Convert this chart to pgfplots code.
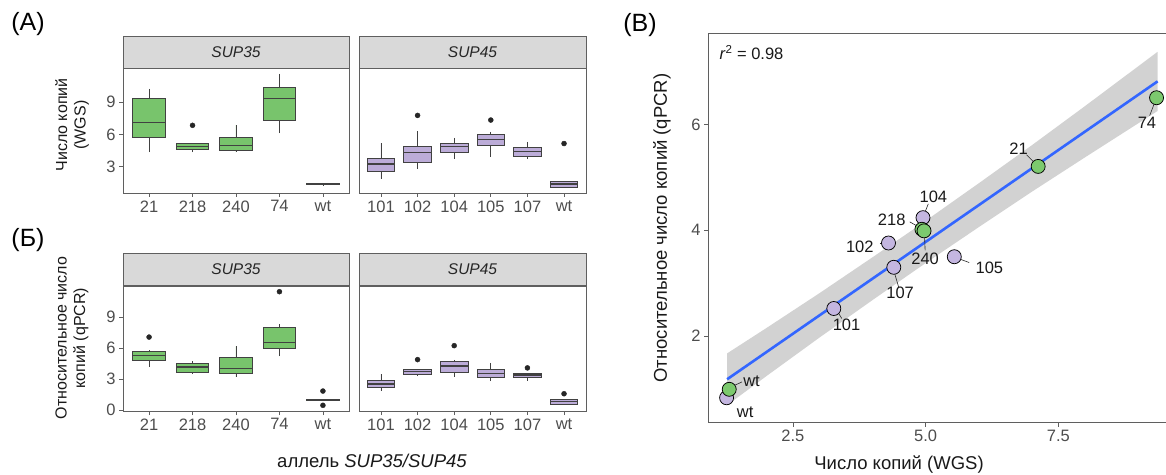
\documentclass[border=0pt]{standalone}
\usepackage{pgfplots}
\pgfplotsset{compat=1.18}
\usepgfplotslibrary{statistics}
\usepackage{fontspec}
\setmainfont{Liberation Sans}
\definecolor{bgreen}{RGB}{120,196,108}
\definecolor{bpurple}{RGB}{188,172,216}
\definecolor{pgreen}{RGB}{124,201,110}
\definecolor{ppurple}{RGB}{196,182,224}
\definecolor{bline}{RGB}{65,65,65}
\definecolor{stripfill}{RGB}{217,217,217}
\definecolor{frame}{RGB}{95,95,95}
\definecolor{ticktext}{RGB}{77,77,77}
\definecolor{bandgray}{RGB}{210,210,210}
\definecolor{fitblue}{RGB}{51,102,255}
\pgfplotsset{
  facet/.style={
    scale only axis, anchor=south west,
    height=125pt,
    axis line style={frame, line width=0.8pt},
    tick align=outside, major tick length=4pt,
    tick style={frame, line width=0.8pt},
    xtick pos=bottom, ytick pos=left,
    ticklabel style={font=\fontsize{16.5}{18}\selectfont, text=ticktext},
    /pgf/number format/assume math mode=true,
    boxplot/draw direction=y,
    boxplot/box extend=0.75,
    boxplot/whisker extend=0,
  },
  gbox/.style={fill=bgreen, draw=bline, line width=0.75pt, boxplot/draw direction=y,
    boxplot/every median/.style={line width=1.5pt}},
  pbox/.style={fill=bpurple, draw=bline, line width=0.75pt, boxplot/draw direction=y,
    boxplot/every median/.style={line width=1.5pt}},
  outl/.style={only marks, mark=*, mark size=2.5pt, color=black!85},
}
\begin{document}
\begin{tikzpicture}[x=1pt,y=1pt]
\useasboundingbox (0,0) rectangle (1166,474);
% ---------------- (A) SUP35 ----------------
\begin{axis}[facet, at={(123pt,281pt)}, width=226pt,
  xmin=0.4, xmax=5.6, ymin=0.57, ymax=12.17,
  xtick={1,2,3,4,5}, xticklabels={21,218,240,74,wt}, ytick={3,6,9}]
\addplot[gbox, boxplot prepared={draw direction=y, draw position=1, lower whisker=4.35, lower quartile=5.77, median=7.12, upper quartile=9.34, upper whisker=10.26}] coordinates {};
\addplot[gbox, boxplot prepared={draw direction=y, draw position=2, lower whisker=4.35, lower quartile=4.6, median=4.88, upper quartile=5.18, upper whisker=5.18}] coordinates {};
\addplot[gbox, boxplot prepared={draw direction=y, draw position=3, lower whisker=4.35, lower quartile=4.57, median=5.0, upper quartile=5.71, upper whisker=6.9}] coordinates {};
\addplot[gbox, boxplot prepared={draw direction=y, draw position=4, lower whisker=6.1, lower quartile=7.34, median=9.34, upper quartile=10.38, upper whisker=11.65}] coordinates {};
\addplot[gbox, boxplot prepared={draw direction=y, draw position=5, lower whisker=1.3, lower quartile=1.33, median=1.4, upper quartile=1.47, upper whisker=1.5}] coordinates {};
\addplot[outl] coordinates {(2,6.85)};
\end{axis}
% ---------------- (A) SUP45 ----------------
\begin{axis}[facet, at={(359pt,281pt)}, width=227pt,
  xmin=0.4, xmax=6.6, ymin=0.57, ymax=12.17,
  xtick={1,2,3,4,5,6}, xticklabels={101,102,104,105,107,wt}, ytick=\empty]
\addplot[pbox, boxplot prepared={draw direction=y, draw position=1, lower whisker=1.9, lower quartile=2.57, median=3.28, upper quartile=3.74, upper whisker=5.18}] coordinates {};
\addplot[pbox, boxplot prepared={draw direction=y, draw position=2, lower whisker=2.78, lower quartile=3.43, median=4.35, upper quartile=4.94, upper whisker=6.32}] coordinates {};
\addplot[pbox, boxplot prepared={draw direction=y, draw position=3, lower whisker=3.71, lower quartile=4.35, median=4.88, upper quartile=5.21, upper whisker=5.71}] coordinates {};
\addplot[pbox, boxplot prepared={draw direction=y, draw position=4, lower whisker=3.95, lower quartile=5.0, median=5.52, upper quartile=6.0, upper whisker=6.26}] coordinates {};
\addplot[pbox, boxplot prepared={draw direction=y, draw position=5, lower whisker=3.71, lower quartile=3.99, median=4.42, upper quartile=4.82, upper whisker=5.34}] coordinates {};
\addplot[pbox, boxplot prepared={draw direction=y, draw position=6, lower whisker=1.09, lower quartile=1.12, median=1.4, upper quartile=1.62, upper whisker=1.64}] coordinates {};
\addplot[outl] coordinates {(2,7.77) (4,7.34) (6,5.16)};
\end{axis}
% ---------------- (B-cyr) SUP35 ----------------
\begin{axis}[facet, at={(123pt,63pt)}, width=226pt,
  xmin=0.4, xmax=5.6, ymin=-0.07, ymax=12.02,
  xtick={1,2,3,4,5}, xticklabels={21,218,240,74,wt}, ytick={0,3,6,9}]
\addplot[gbox, boxplot prepared={draw direction=y, draw position=1, lower whisker=4.2, lower quartile=4.78, median=5.32, upper quartile=5.74, upper whisker=5.8}] coordinates {};
\addplot[gbox, boxplot prepared={draw direction=y, draw position=2, lower whisker=3.49, lower quartile=3.65, median=4.17, upper quartile=4.52, upper whisker=4.74}] coordinates {};
\addplot[gbox, boxplot prepared={draw direction=y, draw position=3, lower whisker=3.2, lower quartile=3.53, median=4.04, upper quartile=5.13, upper whisker=6.19}] coordinates {};
\addplot[gbox, boxplot prepared={draw direction=y, draw position=4, lower whisker=5.22, lower quartile=5.96, median=6.57, upper quartile=7.98, upper whisker=8.3}] coordinates {};
\addplot[gbox, boxplot prepared={draw direction=y, draw position=5, lower whisker=0.96, lower quartile=0.97, median=0.99, upper quartile=1.01, upper whisker=1.02}] coordinates {};
\addplot[outl] coordinates {(1,7.08) (4,11.47) (5,1.86) (5,0.48)};
\end{axis}
% ---------------- (B-cyr) SUP45 ----------------
\begin{axis}[facet, at={(359pt,63pt)}, width=227pt,
  xmin=0.4, xmax=6.6, ymin=-0.07, ymax=12.02,
  xtick={1,2,3,4,5,6}, xticklabels={101,102,104,105,107,wt}, ytick=\empty]
\addplot[pbox, boxplot prepared={draw direction=y, draw position=1, lower whisker=1.86, lower quartile=2.21, median=2.53, upper quartile=2.85, upper whisker=3.49}] coordinates {};
\addplot[pbox, boxplot prepared={draw direction=y, draw position=2, lower whisker=3.27, lower quartile=3.46, median=3.75, upper quartile=3.97, upper whisker=3.99}] coordinates {};
\addplot[pbox, boxplot prepared={draw direction=y, draw position=3, lower whisker=3.24, lower quartile=3.69, median=4.29, upper quartile=4.74, upper whisker=4.9}] coordinates {};
\addplot[pbox, boxplot prepared={draw direction=y, draw position=4, lower whisker=2.79, lower quartile=3.14, median=3.56, upper quartile=3.94, upper whisker=4.62}] coordinates {};
\addplot[pbox, boxplot prepared={draw direction=y, draw position=5, lower whisker=2.88, lower quartile=3.17, median=3.4, upper quartile=3.59, upper whisker=3.6}] coordinates {};
\addplot[pbox, boxplot prepared={draw direction=y, draw position=6, lower whisker=0.6, lower quartile=0.61, median=0.83, upper quartile=1.06, upper whisker=1.07}] coordinates {};
\addplot[outl] coordinates {(2,4.9) (3,6.25) (5,4.1) (6,1.6)};
\end{axis}
% strips
\draw[fill=stripfill, draw=frame, line width=0.8pt] (123,406) rectangle (349,438);
\draw[fill=stripfill, draw=frame, line width=0.8pt] (359,406) rectangle (586,438);
\draw[fill=stripfill, draw=frame, line width=0.8pt] (123,188.3) rectangle (349,220.7);
\draw[fill=stripfill, draw=frame, line width=0.8pt] (359,188.3) rectangle (586,220.7);
\begin{scope}[every node/.style={font=\fontsize{15.5}{17}\selectfont\itshape, text=black!85}]
\node at (236,422) {SUP35};
\node at (472.5,422) {SUP45};
\node at (236,204.5) {SUP35};
\node at (472.5,204.5) {SUP45};
\end{scope}
% labels left
\node[rotate=90, align=center, font=\fontsize{16}{18.5}\selectfont, text=black!90] at (72,349) {Число копий\\(WGS)};
\node[rotate=90, align=center, font=\fontsize{16}{18.5}\selectfont, text=black!90] at (72,136) {Относительное число\\копий (qPCR)};
\node[font=\fontsize{18.5}{21}\selectfont, text=black!90] at (372,13) {аллель \textit{SUP35/SUP45}};
\node[font=\fontsize{25}{28}\selectfont] at (28,450) {(A)};
\node[font=\fontsize{25}{28}\selectfont] at (28,234) {(Б)};
\node[font=\fontsize{25}{28}\selectfont] at (640,449) {(B)};
% ---------------- (B) scatter ----------------
\begin{axis}[scale only axis, anchor=south west, at={(708pt,51.3pt)},
  width=468.7pt, height=389.4pt,
  xmin=0.9, xmax=9.73, ymin=0.358, ymax=7.73,
  xtick={2.5,5,7.5}, xticklabels={2.5,5.0,7.5}, ytick={2,4,6},
  axis line style={frame, line width=0.8pt},
  tick align=outside, major tick length=4pt,
  tick style={frame, line width=0.8pt},
  xtick pos=bottom, ytick pos=left,
  ticklabel style={font=\fontsize{16.5}{18}\selectfont, text=ticktext},
  /pgf/number format/assume math mode=true]
\addplot[fill=bandgray, draw=none] coordinates {
 (1.26,1.67) (2,2.15) (3,2.81) (4,3.49) (4.67,3.95) (5,4.18) (6,4.89) (7,5.61) (8,6.35) (9.37,7.38)
 (9.37,6.26) (8,5.38) (7,4.73) (6,4.06) (5,3.38) (4.67,3.15) (4,2.68) (3,1.97) (2,1.24) (1.26,0.69)};
\addplot[fitblue, line width=2.6pt] coordinates {(1.26,1.18) (9.37,6.82)};
% leader lines
\addplot[black!85, line width=0.6pt] coordinates {(9.30,6.38) (9.22,6.17)};
\addplot[black!85, line width=0.6pt] coordinates {(6.90,5.43) (7.04,5.29)};
\addplot[black!85, line width=0.6pt] coordinates {(5.05,4.50) (4.99,4.35)};
\addplot[black!85, line width=0.6pt] coordinates {(4.70,4.16) (4.86,4.07)};
\addplot[black!85, line width=0.6pt] coordinates {(4.98,3.88) (4.99,3.62)};
\addplot[black!85, line width=0.6pt] coordinates {(4.14,3.75) (4.22,3.75)};
\addplot[black!85, line width=0.6pt] coordinates {(5.66,3.45) (5.82,3.39)};
\addplot[black!85, line width=0.6pt] coordinates {(4.42,3.17) (4.49,2.93)};
\addplot[black!85, line width=0.6pt] coordinates {(3.36,2.43) (3.42,2.33)};
\addplot[black!85, line width=0.6pt] coordinates {(1.41,1.07) (1.54,1.13)};
% points
\addplot[only marks, mark=*, mark size=7pt, mark options={fill=ppurple, draw=black, line width=0.75pt}] coordinates {
 (4.95,4.24) (4.30,3.76) (5.54,3.50) (4.40,3.30) (3.27,2.52) (1.25,0.83)};
\addplot[only marks, mark=*, mark size=7pt, mark options={fill=pgreen, draw=black, line width=0.75pt}] coordinates {
 (9.35,6.51) (7.12,5.21) (4.93,4.02) (4.97,3.99) (1.30,0.99)};
\begin{scope}[every node/.style={font=\fontsize{16.5}{18}\selectfont, text=black!90}]
\node at (axis cs:9.17,6.03) {74};
\node at (axis cs:6.75,5.55) {21};
\node at (axis cs:5.145,4.64) {104};
\node at (axis cs:4.36,4.20) {218};
\node at (axis cs:4.99,3.46) {240};
\node at (axis cs:3.76,3.69) {102};
\node at (axis cs:6.20,3.29) {105};
\node at (axis cs:4.52,2.81) {107};
\node at (axis cs:3.51,2.21) {101};
\node at (axis cs:1.72,1.15) {wt};
\node at (axis cs:1.60,0.56) {wt};
\node[anchor=west] at (axis cs:1.05,7.36) {\textit{r}\textsuperscript{2} = 0.98};
\end{scope}
\end{axis}
\node[rotate=90, font=\fontsize{18.5}{21}\selectfont, text=black!90] at (662,246) {Относительное число копий (qPCR)};
\node[font=\fontsize{18.5}{21}\selectfont, text=black!90] at (899,9) {Число копий (WGS)};
\end{tikzpicture}
\end{document}
